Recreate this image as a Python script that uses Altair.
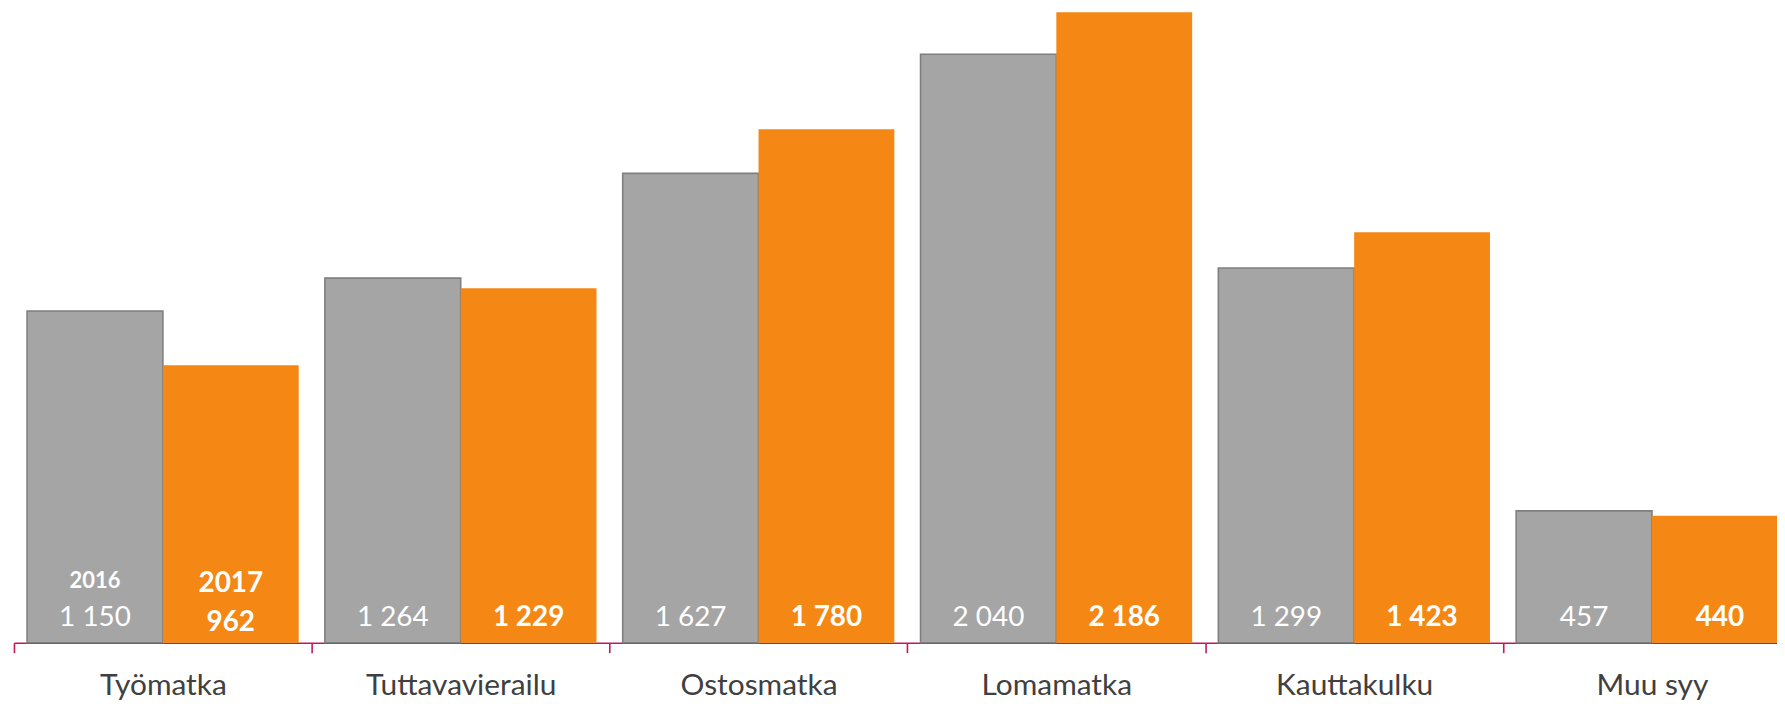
import altair as alt
import pandas as pd

categories = ["Työmatka", "Tuttavavierailu", "Ostosmatka", "Lomamatka", "Kauttakulku", "Muu syy"]
years = ["2016", "2017"]
values_2016 = [1150, 1264, 1627, 2040, 1299, 457]
values_2017 = [962, 1229, 1780, 2186, 1423, 440]
labels_2016 = ["1 150", "1 264", "1 627", "2 040", "1 299", "457"]
labels_2017 = ["962", "1 229", "1 780", "2 186", "1 423", "440"]

rows = []
for i, c in enumerate(categories):
    rows.append({"cat": c, "year": years[0], "value": values_2016[i], "label": labels_2016[i], "first": i == 0})
    rows.append({"cat": c, "year": years[1], "value": values_2017[i], "label": labels_2017[i], "first": i == 0})
df = pd.DataFrame(rows)

FONT = "Lato"
GRAY = "#A5A5A5"
ORANGE = "#F58814"
RANGE = [6, 1801]
HALF_STEP = (RANGE[1] - RANGE[0]) / 6 / 2

x = alt.X(
    "cat:N",
    sort=categories,
    title=None,
    scale=alt.Scale(range=RANGE, paddingInner=0.088, paddingOuter=0.044, round=False),
    axis=alt.Axis(
        domainColor="#C0185C",
        domainWidth=1.6,
        tickColor="#C0185C",
        tickWidth=1.6,
        tickSize=10,
        tickBand="center",
        tickOffset=-HALF_STEP,
        labelOffset=HALF_STEP,
        labelFont=FONT,
        labelFontSize=30,
        labelColor="#404040",
        labelPadding=18,
        labelAngle=0,
        labelBaseline="top",
        labelLimit=0,
        grid=False,
    ),
)
xoff = alt.XOffset("year:N", sort=years, scale=alt.Scale(paddingInner=0, paddingOuter=0, round=False))

base = alt.Chart(df)

bars = base.mark_bar().encode(
    x=x,
    xOffset=xoff,
    y=alt.Y("value:Q", scale=alt.Scale(domain=[0, 2195], nice=False), axis=None),
    color=alt.Color("year:N", scale=alt.Scale(domain=years, range=[GRAY, ORANGE]), legend=None),
    stroke=alt.Stroke("year:N", scale=alt.Scale(domain=years, range=["#7F7F7F", ORANGE]), legend=None),
    strokeWidth=alt.StrokeWidth("year:N", scale=alt.Scale(domain=years, range=[1.6, 0]), legend=None),
)

gray_vals = base.transform_filter(alt.datum.year == "2016").mark_text(
    font=FONT, fontSize=28, color="white", baseline="middle"
).encode(x=x, xOffset=xoff, y=alt.value(611), text="label:N")

orange_vals = base.transform_filter((alt.datum.year == "2017") & (alt.datum.first == False)).mark_text(
    font=FONT, fontSize=28, fontWeight="bold", color="white", baseline="middle"
).encode(x=x, xOffset=xoff, y=alt.value(611), text="label:N")

orange_first = base.transform_filter((alt.datum.year == "2017") & (alt.datum.first == True)).mark_text(
    font=FONT, fontSize=28, fontWeight="bold", color="white", baseline="middle"
).encode(x=x, xOffset=xoff, y=alt.value(616), text="label:N")

year_2016 = base.transform_filter((alt.datum.year == "2016") & (alt.datum.first == True)).mark_text(
    font=FONT, fontSize=22, fontWeight="bold", color="white", baseline="middle"
).encode(x=x, xOffset=xoff, y=alt.value(574), text="year:N")

year_2017 = base.transform_filter((alt.datum.year == "2017") & (alt.datum.first == True)).mark_text(
    font=FONT, fontSize=28, fontWeight="bold", color="white", baseline="middle"
).encode(x=x, xOffset=xoff, y=alt.value(577), text="year:N")

chart = (
    alt.layer(bars, gray_vals, orange_vals, orange_first, year_2016, year_2017)
    .properties(
        width=1777,
        height=636,
        autosize=alt.AutoSizeParams(type="none"),
        padding={"left": 0, "top": 0, "right": 0, "bottom": 60},
        view=alt.ViewBackground(stroke=None, strokeWidth=0),
    )
    .configure_view(strokeWidth=0, strokeOpacity=0)
    .configure(background="white")
)

chart.save("out.html", embed_options={"renderer": "svg", "actions": False})
